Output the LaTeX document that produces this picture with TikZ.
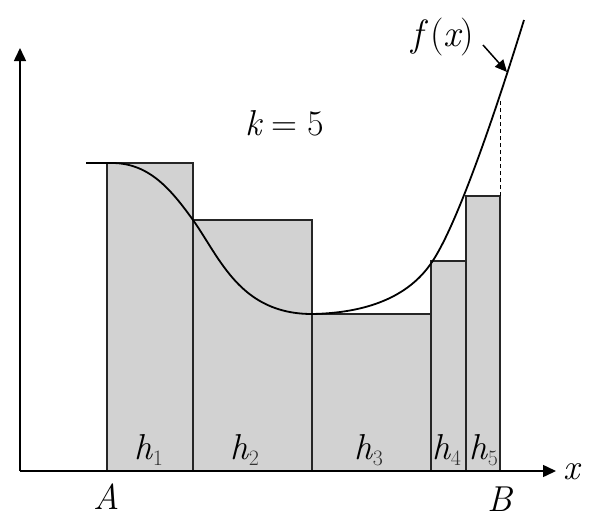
\documentclass[tikz,border=0pt]{standalone}
\usetikzlibrary{arrows.meta}
\begin{document}
\begin{tikzpicture}[x=1pt,y=-1pt,
  lbl/.style={font=\rmfamily\fontsize{36}{36}\selectfont\itshape, inner sep=0pt, anchor=base},
  bar/.style={fill=barfill, draw=black!85, line width=1.2pt},
  axis/.style={line width=1.5pt, -{Triangle[length=13pt,width=12pt]}},
  curve/.style={line width=1.8pt, black}]
\definecolor{barfill}{RGB}{210,210,210}
\useasboundingbox (0,0) rectangle (597,517);
% bars
\draw[bar] (107,471) rectangle (193,163);
\draw[bar] (193,471) rectangle (312,220);
\draw[bar] (312,471) rectangle (431,314);
\draw[bar] (431,471) rectangle (466,261);
\draw[bar] (466,471) rectangle (500,196);
% dashed
\coordinate (dtop) at (500,100);
\coordinate (dbot) at (500,196);
\draw[dashed, dash pattern=on 4pt off 3pt, line width=1pt] (dbot) -- (dtop);
% axes
\coordinate (O) at (20,471);
\coordinate (Ytip) at (20,48);
\coordinate (Xtip) at (556,471);
\draw[axis] (O) -- (Ytip);
\draw[axis] (O) -- (Xtip);
% curve
\draw[curve] (86,163) -- (112,163)
  .. controls (150,163) and (172,191) .. (193,220)
  .. controls (220,258) and (240,314) .. (312,314)
  .. controls (365,313) and (408,298) .. (432,262)
  .. controls (455,228) and (490,130) .. (524,20);
% labels
\node[lbl] (k) at (285,135) {k\hspace{0.28em}\upshape=\hspace{0.28em}5};
\node[lbl, font=\rmfamily\fontsize{38}{38}\selectfont\itshape] (fx) at (443,46) {f\hspace{0.18em}\upshape(\itshape x\upshape)};
\coordinate (fxs) at (483,45);
\coordinate (fxt) at (507,72);
\draw[line width=1.5pt, -{Triangle[length=12pt,width=11pt]}] (fxs) -- (fxt);
\newcommand{\hsub}[1]{h\raisebox{-6pt}{\fontsize{22}{22}\selectfont\upshape\color{black!80}#1}}
\node[lbl] (h1) at (149,459) {\hsub{1}};
\node[lbl] (h2) at (245,459) {\hsub{2}};
\node[lbl] (h3) at (369,459) {\hsub{3}};
\node[lbl] (h4) at (447,459) {\hsub{4}};
\node[lbl] (h5) at (484,459) {\hsub{5}};
\node[lbl] (A) at (107,509) {A};
\node[lbl] (B) at (500,511) {B};
\node[lbl] (xl) at (572,479) {x};
\end{tikzpicture}
\end{document}
